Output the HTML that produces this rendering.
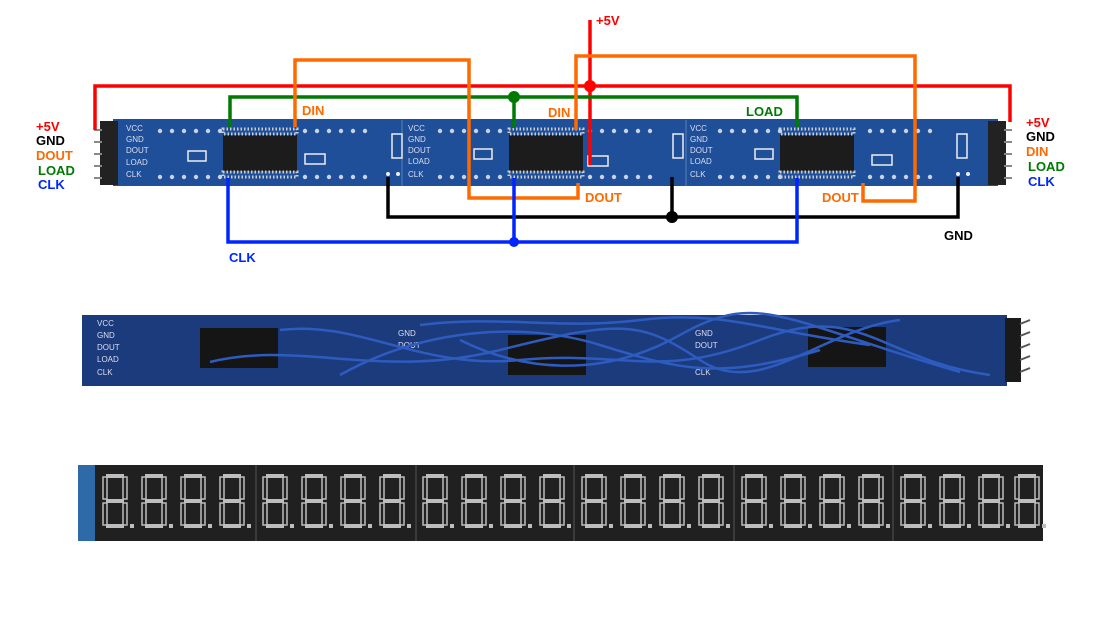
<!DOCTYPE html>
<html><head><meta charset="utf-8"><style>
html,body{margin:0;padding:0;background:#fff;}
svg{display:block;}
text{font-family:"Liberation Sans",sans-serif;font-weight:bold;}
.s{font-size:8px;fill:#dde;font-weight:normal;}
</style></head><body>
<svg width="1100" height="625" viewBox="0 0 1100 625" xmlns="http://www.w3.org/2000/svg">
<defs>
<g id="dg">
<rect x="3" y="0" width="18" height="4" fill="#bdbdbd"/>
<rect x="3" y="25" width="18" height="4" fill="#bdbdbd"/>
<rect x="3" y="50" width="18" height="4" fill="#bdbdbd"/>
<rect x="0" y="3" width="4" height="22" fill="none" stroke="#bdbdbd" stroke-width="1.5"/>
<rect x="20" y="3" width="4" height="22" fill="none" stroke="#bdbdbd" stroke-width="1.5"/>
<rect x="0" y="29" width="4" height="22" fill="none" stroke="#bdbdbd" stroke-width="1.5"/>
<rect x="20" y="29" width="4" height="22" fill="none" stroke="#bdbdbd" stroke-width="1.5"/>
<rect x="27" y="50" width="4" height="4" fill="#bdbdbd"/>
</g>
<g id="chip">
<rect x="0" y="0" width="74" height="36" fill="#1c1c1c"/>
<rect x="0" y="-6" width="74" height="5" fill="none" stroke="#ccc" stroke-dasharray="1.5,2" stroke-width="3"/>
<rect x="0" y="37" width="74" height="5" fill="none" stroke="#ccc" stroke-dasharray="1.5,2" stroke-width="3"/>
</g>
<g id="holes" fill="#c9d3e6">
<circle cx="0" cy="0" r="2.2"/><circle cx="12" cy="0" r="2.2"/><circle cx="24" cy="0" r="2.2"/><circle cx="36" cy="0" r="2.2"/><circle cx="48" cy="0" r="2.2"/><circle cx="60" cy="0" r="2.2"/>
</g>
</defs>

<!-- top board -->
<rect x="113" y="119" width="885" height="67" fill="#1f4f98"/>
<rect x="100" y="121" width="18" height="64" fill="#222"/>
<rect x="988" y="121" width="18" height="64" fill="#222"/>
<g stroke="#888" stroke-width="2">
<line x1="94" y1="130" x2="102" y2="130"/><line x1="94" y1="142" x2="102" y2="142"/><line x1="94" y1="154" x2="102" y2="154"/><line x1="94" y1="166" x2="102" y2="166"/><line x1="94" y1="178" x2="102" y2="178"/>
<line x1="1004" y1="130" x2="1012" y2="130"/><line x1="1004" y1="142" x2="1012" y2="142"/><line x1="1004" y1="154" x2="1012" y2="154"/><line x1="1004" y1="166" x2="1012" y2="166"/><line x1="1004" y1="178" x2="1012" y2="178"/>
</g>
<g class="s"><text x="126" y="131" class="s">VCC</text><text x="126" y="142" class="s">GND</text><text x="126" y="153" class="s">DOUT</text><text x="126" y="165" class="s">LOAD</text><text x="126" y="177" class="s">CLK</text></g>
<text x="408" y="131" class="s">VCC</text><text x="408" y="142" class="s">GND</text><text x="408" y="153" class="s">DOUT</text><text x="408" y="164" class="s">LOAD</text><text x="408" y="177" class="s">CLK</text>
<text x="690" y="131" class="s">VCC</text><text x="690" y="142" class="s">GND</text><text x="690" y="153" class="s">DOUT</text><text x="690" y="164" class="s">LOAD</text><text x="690" y="177" class="s">CLK</text>
<line x1="402" y1="120" x2="402" y2="186" stroke="#5a7fb8"/><line x1="686" y1="120" x2="686" y2="186" stroke="#5a7fb8"/>
<use href="#chip" x="223" y="135"/><use href="#chip" x="509" y="135"/><use href="#chip" x="780" y="135"/>
<use href="#holes" x="160" y="131"/><use href="#holes" x="160" y="177"/><use href="#holes" x="305" y="131"/><use href="#holes" x="305" y="177"/>
<use href="#holes" x="440" y="131"/><use href="#holes" x="440" y="177"/><use href="#holes" x="590" y="131"/><use href="#holes" x="590" y="177"/>
<use href="#holes" x="720" y="131"/><use href="#holes" x="720" y="177"/><use href="#holes" x="870" y="131"/><use href="#holes" x="870" y="177"/>
<g fill="none" stroke="#eee" stroke-width="1.5">
<rect x="188" y="151" width="18" height="10"/><rect x="305" y="154" width="20" height="10"/>
<rect x="474" y="149" width="18" height="10"/><rect x="588" y="156" width="20" height="10"/>
<rect x="755" y="149" width="18" height="10"/><rect x="872" y="155" width="20" height="10"/>
<rect x="392" y="134" width="10" height="24"/><rect x="673" y="134" width="10" height="24"/><rect x="957" y="134" width="10" height="24"/>
</g>
<circle cx="388" cy="174" r="2" fill="#eee"/><circle cx="398" cy="174" r="2" fill="#eee"/>
<circle cx="958" cy="174" r="2" fill="#eee"/><circle cx="968" cy="174" r="2" fill="#eee"/>

<!-- wires -->
<g fill="none" stroke-width="3.5">
<polyline points="95,130 95,86 1010,86 1010,122" stroke="#f00"/>
<line x1="590" y1="20" x2="590" y2="165" stroke="#f00"/>
<polyline points="230,127 230,97 797,97 797,127" stroke="#007a00"/>
<line x1="514" y1="97" x2="514" y2="128" stroke="#007a00"/>
<polyline points="295,127 295,60 469,60 469,198 578,198 578,183" stroke="#ff6a00"/>
<polyline points="576,130 576,56 915,56 915,201 863,201 863,183" stroke="#ff6a00"/>
<polyline points="388,177 388,217 958,217 958,177" stroke="#000"/>
<line x1="672" y1="177" x2="672" y2="217" stroke="#000"/>
<polyline points="228,178 228,242 797,242 797,178" stroke="#0026ff"/>
<line x1="514" y1="178" x2="514" y2="242" stroke="#0026ff"/>
</g>
<circle cx="590" cy="86" r="6" fill="#f00"/>
<circle cx="514" cy="97" r="6" fill="#007a00"/>
<circle cx="672" cy="217" r="6" fill="#000"/>
<circle cx="514" cy="242" r="5" fill="#0026ff"/>

<g font-size="13">
<text x="596" y="25" fill="#f00">+5V</text>
<text x="302" y="115" fill="#ff6a00">DIN</text>
<text x="548" y="117" fill="#ff6a00">DIN</text>
<text x="585" y="202" fill="#ff6a00">DOUT</text>
<text x="822" y="202" fill="#ff6a00">DOUT</text>
<text x="746" y="116" fill="#007a00">LOAD</text>
<text x="229" y="262" fill="#0026ff">CLK</text>
<text x="944" y="240" fill="#000">GND</text>
<text x="36" y="131" fill="#f00">+5V</text>
<text x="36" y="145" fill="#000">GND</text>
<text x="36" y="160" fill="#ff6a00">DOUT</text>
<text x="38" y="175" fill="#007a00">LOAD</text>
<text x="38" y="189" fill="#0026ff">CLK</text>
<text x="1026" y="127" fill="#f00">+5V</text>
<text x="1026" y="141" fill="#000">GND</text>
<text x="1026" y="156" fill="#ff6a00">DIN</text>
<text x="1028" y="171" fill="#007a00">LOAD</text>
<text x="1028" y="186" fill="#0026ff">CLK</text>
</g>

<!-- middle photo -->
<rect x="82" y="315" width="925" height="71" fill="#1c3b7c"/>
<rect x="1005" y="318" width="16" height="64" fill="#1a1a1a"/>
<g stroke="#555" stroke-width="2"><line x1="1020" y1="324" x2="1030" y2="320"/><line x1="1020" y1="336" x2="1030" y2="332"/><line x1="1020" y1="348" x2="1030" y2="344"/><line x1="1020" y1="360" x2="1030" y2="356"/><line x1="1020" y1="372" x2="1030" y2="368"/></g>
<rect x="200" y="328" width="78" height="40" fill="#151515"/>
<rect x="508" y="335" width="78" height="40" fill="#151515"/>
<rect x="808" y="327" width="78" height="40" fill="#151515"/>
<text x="97" y="326" class="s">VCC</text><text x="97" y="338" class="s">GND</text><text x="97" y="350" class="s">DOUT</text><text x="97" y="362" class="s">LOAD</text><text x="97" y="375" class="s">CLK</text>
<text x="398" y="336" class="s">GND</text><text x="398" y="348" class="s">DOUT</text><text x="695" y="336" class="s">GND</text><text x="695" y="348" class="s">DOUT</text><text x="695" y="375" class="s">CLK</text>
<g fill="none" stroke="#2d5bbf" stroke-width="2.5">
<path d="M210 362 C300 340 380 380 500 350 S640 320 700 360 S820 330 900 320"/>
<path d="M280 330 C360 320 420 370 520 360 S660 380 760 340 S880 360 990 375"/>
<path d="M340 375 C420 330 520 320 600 345 S720 380 820 350"/>
<path d="M420 325 C500 315 560 330 640 320 S760 330 870 345"/>
<path d="M460 340 C520 370 600 380 680 335 S780 320 960 372"/>
</g>

<!-- bottom photo -->
<rect x="78" y="465" width="965" height="76" fill="#202020"/>
<rect x="78" y="465" width="17" height="76" fill="#2f6aa8"/>
<g stroke="#3a3a3a" stroke-width="2"><line x1="256" y1="465" x2="256" y2="541"/><line x1="416" y1="465" x2="416" y2="541"/><line x1="574" y1="465" x2="574" y2="541"/><line x1="734" y1="465" x2="734" y2="541"/><line x1="893" y1="465" x2="893" y2="541"/></g>
<g>
<use href="#dg" x="103" y="474"/><use href="#dg" x="142" y="474"/><use href="#dg" x="181" y="474"/><use href="#dg" x="220" y="474"/>
<use href="#dg" x="263" y="474"/><use href="#dg" x="302" y="474"/><use href="#dg" x="341" y="474"/><use href="#dg" x="380" y="474"/>
<use href="#dg" x="423" y="474"/><use href="#dg" x="462" y="474"/><use href="#dg" x="501" y="474"/><use href="#dg" x="540" y="474"/>
<use href="#dg" x="582" y="474"/><use href="#dg" x="621" y="474"/><use href="#dg" x="660" y="474"/><use href="#dg" x="699" y="474"/>
<use href="#dg" x="742" y="474"/><use href="#dg" x="781" y="474"/><use href="#dg" x="820" y="474"/><use href="#dg" x="859" y="474"/>
<use href="#dg" x="901" y="474"/><use href="#dg" x="940" y="474"/><use href="#dg" x="979" y="474"/><use href="#dg" x="1015" y="474"/>
</g>
</svg>
</body></html>
